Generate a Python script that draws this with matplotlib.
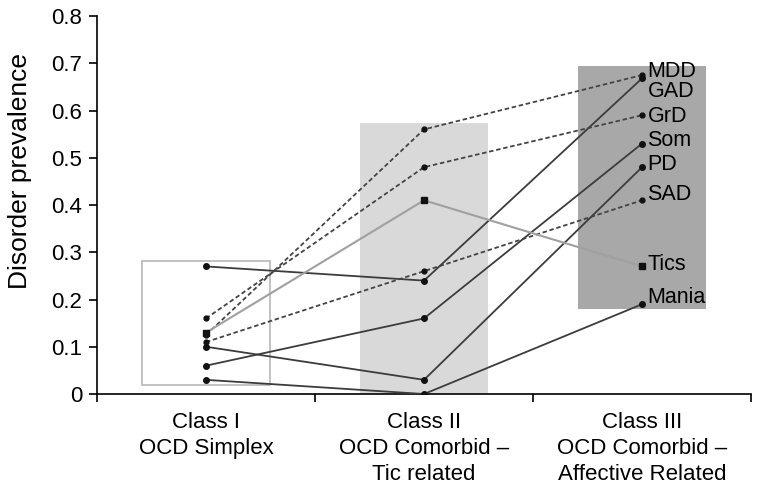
import matplotlib.pyplot as plt
from matplotlib.patches import Rectangle

plt.rcParams['font.family'] = ['Liberation Sans', 'DejaVu Sans']

classes = ["Class I\nOCD Simplex",
           "Class II\nOCD Comorbid \u2013\nTic related",
           "Class III\nOCD Comorbid \u2013\nAffective Related"]

# prevalence per class (I, II, III)
disorders = ["MDD", "GAD", "GrD", "Som", "PD", "SAD", "Tics", "Mania"]
mdd = [0.125, 0.56, 0.675]
gad = [0.27, 0.24, 0.668]
grd = [0.16, 0.48, 0.59]
som = [0.06, 0.16, 0.53]
pd_ = [0.10, 0.03, 0.48]
sad = [0.11, 0.26, 0.41]
tics = [0.13, 0.41, 0.27]
mania = [0.03, 0.00, 0.19]
values = [mdd, gad, grd, som, pd_, sad, tics, mania]

# where the name labels sit at the right
label_y = [0.682, 0.64, 0.588, 0.536, 0.486, 0.422, 0.274, 0.205]

fig = plt.figure(figsize=(7.62, 4.94), dpi=100)
ax = fig.add_axes([0.1273, 0.2024, 0.8583, 0.7652])

x = [0, 1, 2]
hw = 0.295
# class boxes
ax.add_patch(Rectangle((0 - hw, 0.019), 2 * hw, 0.263, facecolor='none',
                       edgecolor='#b8b8b8', lw=1.2, zorder=1))
ax.add_patch(Rectangle((1 - hw, 0.0), 2 * hw, 0.574, facecolor='#d9d9d9',
                       edgecolor='none', zorder=1))
ax.add_patch(Rectangle((2 - hw, 0.179), 2 * hw, 0.515, facecolor='#a8a8a8',
                       edgecolor='none', zorder=1))

for name, vals in zip(disorders, values):
    if name in ("MDD", "GrD", "SAD"):
        ax.plot(x, vals, color='#444444', lw=1.3, ls=(0, (2.5, 1.5)),
                marker='o', ms=3.5, mfc='#111111', mec='#111111', zorder=3)
    elif name == "Tics":
        ax.plot(x, vals, color='#a0a0a0', lw=1.5, marker='s', ms=4.5,
                mfc='#111111', mec='#111111', zorder=3)
    else:
        ax.plot(x, vals, color='#3c3c3c', lw=1.3, marker='o', ms=4,
                mfc='#111111', mec='#111111', zorder=3)

for name, ly in zip(disorders, label_y):
    ax.text(2.025, ly, name, fontsize=15.5, va='center', ha='left', zorder=4)

ax.set_xlim(-0.5, 2.5)
ax.set_ylim(0, 0.8)
ax.set_yticks([0, 0.1, 0.2, 0.3, 0.4, 0.5, 0.6, 0.7, 0.8])
ax.set_yticklabels(["0", "0.1", "0.2", "0.3", "0.4", "0.5", "0.6", "0.7", "0.8"])
ax.set_xticks(x)
ax.set_xticklabels(classes, fontsize=16, linespacing=1.32)
ax.set_xticks([-0.5, 0.5, 1.5, 2.5], minor=True)
ax.tick_params(axis='x', which='major', length=0, pad=13)
ax.tick_params(axis='x', which='minor', length=6, width=1.2, direction='out')
ax.tick_params(axis='y', labelsize=16, length=5.5, width=1.2, direction='out', pad=5)
ax.set_ylabel("Disorder prevalence", fontsize=19)
ax.yaxis.set_label_coords(-0.1, 0.59)

for s in ['top', 'right']:
    ax.spines[s].set_visible(False)
ax.spines['left'].set_linewidth(1.2)
ax.spines['bottom'].set_linewidth(1.2)

fig.savefig("out.png", dpi=100)
